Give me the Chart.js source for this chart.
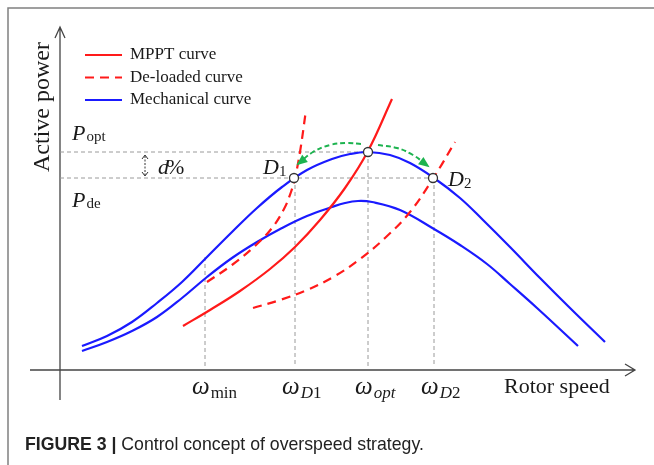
<!DOCTYPE html>
<html>
<head>
<meta charset="utf-8">
<script src="https://cdn.jsdelivr.net/npm/chart.js@4.4.1/dist/chart.umd.min.js"></script>
<style>
  html, body { margin: 0; padding: 0; background: #fff; }
  #wrap { position: relative; width: 654px; height: 465px; }
</style>
</head>
<body>
<div id="wrap"><canvas id="c"></canvas></div>
<script>
// Rotor speed (x) and active power (y) in arbitrary units.
const mechUpper = [[22,24],[47,34],[72,48],[97,67],[122,88],[147,113],[172,138],[197,162],[222,183],[247,200],[272,211],[290,216],[308,218],[330,215],[350,207],[374,192],[400,172],[423,150],[450,123],[480,92],[510,62],[545,28]];
const mechLower = [[22,19],[47,28],[72,39],[97,53],[122,72],[147,93],[172,112],[197,128],[222,142],[247,154],[272,163],[285,167],[298,169],[312,168],[340,160],[374,141],[400,125],[427,106],[450,86],[477,62],[518,24]];
const mpptCurve = [[123,44],[150,60],[180,79],[210,101],[235,123],[260,150],[285,182],[308,219],[332,271]];
const deloadLow = [[147,88],[172,105],[195,124],[212,142],[224,161],[231,178],[235,192],[240,218],[246,260]];
const deloadHigh = [[193,62],[220,70],[247,80],[275,94],[300,111],[325,132],[350,158],[374,193],[395,228]];
const shiftLeft = [[238,206],[253,218],[270,225],[287,227],[302,226]];
const shiftRight = [[318,225],[337,222],[353,215],[368,204]];

// Operating points D1, optimum, D2
const opPoints = [[234,192],[308,218],[373,192]];

// Speed marks on the rotor-speed axis and power levels
const speedMarks = [145, 235, 308, 374];
const speedLabels = [['min', false], ['D', true, '1'], ['opt', true], ['D', true, '2']];
const pOpt = 218;
const pDe = 192;

const axisX = [-30, 575];
const axisY = [-30, 343];

const toXY = arr => arr.map(p => ({ x: p[0], y: p[1] }));

const RED = '#ff1a1a', BLUE = '#1a1aff', GREEN = '#1db34f', GUIDE = '#9a9a9a', INK = '#1a1a1a';

const lineDs = (label, pts, color, dash, width) => ({
  label, data: toXY(pts), showLine: true, borderColor: color, backgroundColor: color,
  borderWidth: width || 2.2, borderDash: dash || [], pointRadius: 0,
  tension: 0.4, fill: false
});

// dashed guide lines
const guides = [];
guides.push(lineDs('g', [[0, pOpt], [speedMarks[2], pOpt]], GUIDE, [4, 3], 1));
guides.push(lineDs('g', [[0, pDe], [speedMarks[3], pDe]], GUIDE, [4, 3], 1));
guides.push(lineDs('g', [[speedMarks[0], 113], [speedMarks[0], 4]], GUIDE, [4, 3], 1));
guides.push(lineDs('g', [[speedMarks[1], pDe], [speedMarks[1], 4]], GUIDE, [4, 3], 1));
guides.push(lineDs('g', [[speedMarks[2], pOpt], [speedMarks[2], 4]], GUIDE, [4, 3], 1));
guides.push(lineDs('g', [[speedMarks[3], pDe], [speedMarks[3], 4]], GUIDE, [4, 3], 1));
guides.forEach(g => { g.tension = 0; });

const datasets = [
  { label: 'points', data: toXY(opPoints), showLine: false, pointRadius: 4.5,
    pointBackgroundColor: '#fff', pointBorderColor: '#333', pointBorderWidth: 1.3 },
  lineDs('shiftL', shiftLeft, GREEN, [5, 3], 2),
  lineDs('shiftR', shiftRight, GREEN, [5, 3], 2),
  lineDs('MPPT curve', mpptCurve, RED),
  lineDs('De-loaded curve', deloadLow, RED, [9, 6]),
  lineDs('De-loaded curve 2', deloadHigh, RED, [9, 6]),
  lineDs('Mechanical curve', mechUpper, BLUE),
  lineDs('Mechanical curve 2', mechLower, BLUE),
  ...guides
];

function arrowHead(ctx, from, to, len, half, color) {
  const ang = Math.atan2(to.y - from.y, to.x - from.x);
  ctx.save();
  ctx.fillStyle = color;
  ctx.translate(to.x, to.y);
  ctx.rotate(ang);
  ctx.beginPath();
  ctx.moveTo(2, 0);
  ctx.lineTo(-len, -half);
  ctx.lineTo(-len, half);
  ctx.closePath();
  ctx.fill();
  ctx.restore();
}

function drawPieces(ctx, pieces, x, y) {
  // pieces: [text, font, dy, extra advance]
  let cx = x;
  pieces.forEach(p => {
    ctx.font = p[1];
    ctx.fillText(p[0], cx, y + (p[2] || 0));
    cx += ctx.measureText(p[0]).width + (p[3] || 0);
  });
}

const SERIF = '"Liberation Serif", "Times New Roman", serif';

const overlay = {
  id: 'overlay',
  beforeDatasetsDraw(chart) {
    const { ctx, scales: { x, y } } = chart;
    ctx.save();
    // figure frame
    ctx.strokeStyle = '#808080';
    ctx.lineWidth = 1.5;
    ctx.beginPath();
    ctx.moveTo(8, 465); ctx.lineTo(8, 8); ctx.lineTo(654, 8);
    ctx.stroke();
    // axes
    const x0 = x.getPixelForValue(0), y0 = y.getPixelForValue(0);
    const xl = x.getPixelForValue(axisX[0]), xr = x.getPixelForValue(axisX[1]);
    const yb = y.getPixelForValue(axisY[0]), yt = y.getPixelForValue(axisY[1]);
    ctx.strokeStyle = '#444';
    ctx.lineWidth = 1.3;
    ctx.beginPath();
    ctx.moveTo(xl, y0); ctx.lineTo(xr, y0);
    ctx.moveTo(x0, yb); ctx.lineTo(x0, yt);
    // open arrowheads
    ctx.moveTo(xr - 10, y0 - 6); ctx.lineTo(xr, y0); ctx.lineTo(xr - 10, y0 + 6);
    ctx.moveTo(x0 - 5, yt + 11); ctx.lineTo(x0, yt); ctx.lineTo(x0 + 5, yt + 11);
    ctx.stroke();
    ctx.restore();
  },
  afterDatasetsDraw(chart) {
    const { ctx, scales: { x, y } } = chart;
    const P = p => ({ x: x.getPixelForValue(p[0]), y: y.getPixelForValue(p[1]) });
    // green arrowheads at both ends of the shift arc
    arrowHead(ctx, P(shiftLeft[1]), P(shiftLeft[0]), 9, 4.5, GREEN);
    arrowHead(ctx, P(shiftRight[shiftRight.length - 2]), P(shiftRight[shiftRight.length - 1]), 9, 4.5, GREEN);

    ctx.save();
    ctx.fillStyle = INK;
    ctx.textAlign = 'left';
    ctx.textBaseline = 'alphabetic';

    // legend
    const legend = [['MPPT curve', RED, []], ['De-loaded curve', RED, [9, 6]], ['Mechanical curve', BLUE, []]];
    legend.forEach((it, i) => {
      const ly = 55 + i * 22.5;
      ctx.save();
      ctx.strokeStyle = it[1];
      ctx.lineWidth = 2.2;
      ctx.setLineDash(it[2]);
      ctx.beginPath(); ctx.moveTo(85, ly); ctx.lineTo(122, ly); ctx.stroke();
      ctx.restore();
      ctx.font = '17px ' + SERIF;
      ctx.textBaseline = 'middle';
      ctx.fillText(it[0], 130, ly);
    });
    ctx.textBaseline = 'alphabetic';

    // axis titles
    ctx.font = '22px ' + SERIF;
    ctx.fillText('Rotor speed', 504, 393);
    ctx.save();
    ctx.translate(49, 107);
    ctx.rotate(-Math.PI / 2);
    ctx.font = '24px ' + SERIF;
    ctx.textAlign = 'center';
    ctx.fillText('Active power', 0, 0);
    ctx.restore();

    // power levels
    const it22 = 'italic 22px ' + SERIF, rm15 = '15px ' + SERIF;
    drawPieces(ctx, [['P', it22, 0, 1], ['opt', rm15, 1]], 72, y.getPixelForValue(pOpt) - 12);
    drawPieces(ctx, [['P', it22, 0, 1], ['de', rm15, 1]], 72, y.getPixelForValue(pDe) + 29);

    // d% with double arrow
    const ax = x.getPixelForValue(85);
    const ya = y.getPixelForValue(pOpt) + 3, yb2 = y.getPixelForValue(pDe) - 2;
    ctx.save();
    ctx.strokeStyle = '#333';
    ctx.lineWidth = 1;
    ctx.setLineDash([2, 1.5]);
    ctx.beginPath(); ctx.moveTo(ax, ya + 1); ctx.lineTo(ax, yb2 - 1); ctx.stroke();
    ctx.setLineDash([]);
    ctx.beginPath();
    ctx.moveTo(ax - 3, ya + 4); ctx.lineTo(ax, ya); ctx.lineTo(ax + 3, ya + 4);
    ctx.moveTo(ax - 3, yb2 - 4); ctx.lineTo(ax, yb2); ctx.lineTo(ax + 3, yb2 - 4);
    ctx.stroke();
    ctx.restore();
    drawPieces(ctx, [['d', it22, 0, -3], ['%', '22px ' + SERIF, 0]], ax + 13, (ya + yb2) / 2 + 8);

    // operating-point labels
    const d1 = P(opPoints[0]), d2 = P(opPoints[2]);
    drawPieces(ctx, [['D', it22, 0, 0], ['1', rm15, 2]], d1.x - 31, d1.y - 4);
    drawPieces(ctx, [['D', it22, 0, 0], ['2', rm15, 2]], d2.x + 15, d2.y + 8);

    // speed labels under the axis
    const om = 'italic 25px ' + SERIF;
    speedMarks.forEach((v, i) => {
      const px = x.getPixelForValue(v) - 13;
      const lab = speedLabels[i];
      const pieces = [['\u03c9', om, 0, 1]];
      pieces.push([lab[0], (lab[1] ? 'italic 17px ' : '17px ') + SERIF, 4]);
      if (lab[2]) pieces.push([lab[2], '17px ' + SERIF, 4]);
      drawPieces(ctx, pieces, px, 394);
    });

    // caption
    const SANS = '"Liberation Sans", Arial, sans-serif';
    ctx.fillStyle = '#222';
    drawPieces(ctx, [['FIGURE 3 | ', 'bold 17.7px ' + SANS, 0], ['Control concept of overspeed strategy.', '17.7px ' + SANS, 0]], 25, 450);
    ctx.restore();
  }
};

new Chart(document.getElementById('c'), {
  type: 'scatter',
  data: { datasets },
  options: {
    responsive: true,
    maintainAspectRatio: false,
    animation: false,
    events: [],
    layout: { padding: { left: 30, right: 19, top: 27, bottom: 65 } },
    scales: {
      x: { type: 'linear', min: axisX[0], max: axisX[1], display: false },
      y: { type: 'linear', min: axisY[0], max: axisY[1], display: false }
    },
    plugins: { legend: { display: false }, tooltip: { enabled: false } }
  },
  plugins: [overlay]
});
</script>
</body>
</html>
